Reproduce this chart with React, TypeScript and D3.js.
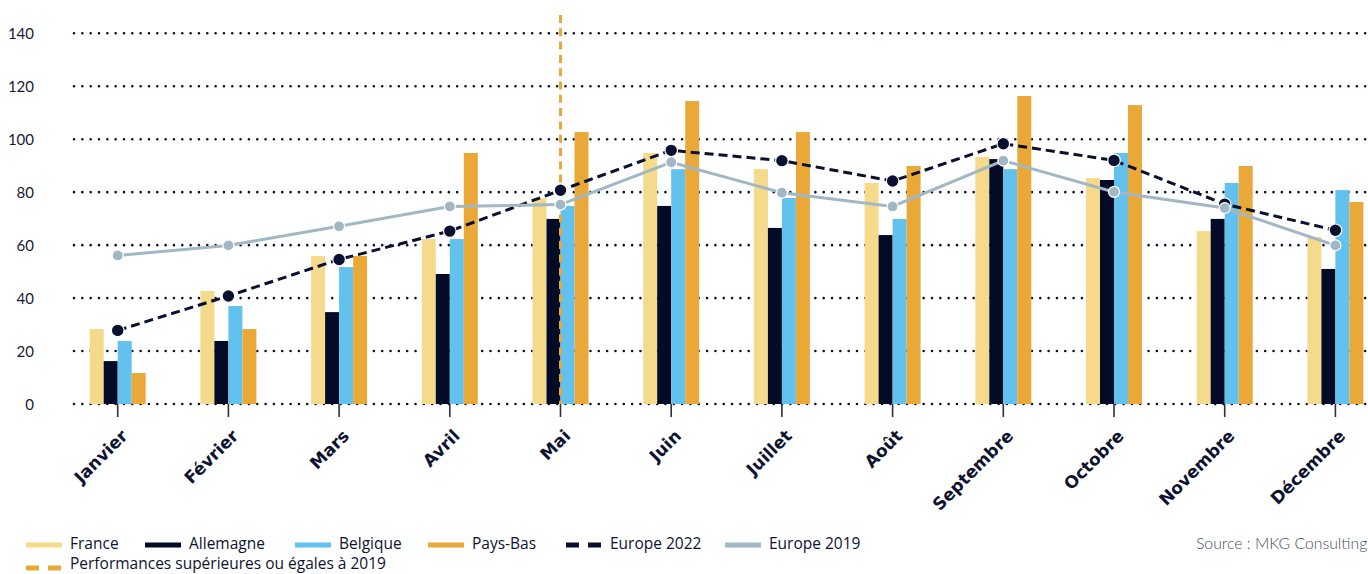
import React from 'react';
import { scaleBand, scaleLinear, line } from 'd3';

const months = ['Janvier', 'Février', 'Mars', 'Avril', 'Mai', 'Juin', 'Juillet', 'Août', 'Septembre', 'Octobre', 'Novembre', 'Décembre'];
const france = [28.3, 42.7, 55.9, 62.3, 77.7, 94.8, 88.7, 83.5, 93.3, 85.3, 65.3, 63.1];
const allemagne = [16.2, 23.8, 34.7, 49.1, 69.9, 74.8, 66.5, 63.8, 92.5, 84.6, 69.9, 51.0];
const belgique = [23.8, 37.0, 51.7, 62.3, 74.8, 88.7, 77.8, 69.9, 88.7, 94.8, 83.5, 80.8];
const paysBas = [11.7, 28.3, 55.9, 94.8, 102.7, 114.4, 102.7, 89.9, 116.3, 112.9, 89.9, 76.3];
const europe2022 = [27.8, 40.8, 54.6, 65.3, 80.7, 95.8, 91.9, 84.2, 98.3, 92.0, 75.5, 65.6];
const europe2019 = [56.1, 59.9, 67.1, 74.6, 75.3, 91.3, 79.8, 74.6, 91.9, 80.1, 74.0, 59.9];
const yTicks = [0, 20, 40, 60, 80, 100, 120, 140];
const markerMonth = 'Mai';

const barSeries = [
  { name: 'France', values: france, color: '#f5da8c' },
  { name: 'Allemagne', values: allemagne, color: '#030b26' },
  { name: 'Belgique', values: belgique, color: '#63c1ed' },
  { name: 'Pays-Bas', values: paysBas, color: '#eaa839' },
];

const NAVY = '#0a1030';
const GREY = '#a1b8c4';
const ORANGE = '#eaa839';
const FONT = 'Lato, "Open Sans", sans-serif';
const LEGEND_FONT = '"Open Sans", Lato, sans-serif';

export default function App() {
  const W = 1368;
  const H = 574;
  const x = scaleBand<string>().domain(months).range([62.35, 1390.75]).paddingInner(0.494).paddingOuter(0.247);
  const xi = scaleBand<string>().domain(barSeries.map((s) => s.name)).range([0, x.bandwidth()]);
  const y = scaleLinear().domain([0, 140]).range([404, 33.3]);
  const cx = (m: string) => (x(m) as number) + x.bandwidth() / 2;

  const lineGen = line<number>()
    .x((_, i) => cx(months[i]))
    .y((v) => y(v));

  const legend = [
    { name: 'France', color: '#f5da8c', x: 26, dash: '' },
    { name: 'Allemagne', color: '#030b26', x: 145, dash: '' },
    { name: 'Belgique', color: '#63c1ed', x: 295, dash: '' },
    { name: 'Pays-Bas', color: ORANGE, x: 428, dash: '' },
    { name: 'Europe 2022', color: NAVY, x: 566, dash: '13 9' },
    { name: 'Europe 2019', color: GREY, x: 725, dash: '' },
  ];

  return (
    <svg width={W} height={H} style={{ position: 'absolute', left: 0, top: 0, background: '#fff' }} fontFamily={FONT}>
      {yTicks.map((t) => (
        <g key={t}>
          <line x1={74} x2={W} y1={y(t)} y2={y(t)} stroke={NAVY} strokeWidth={2.6} strokeLinecap="round" strokeDasharray="0 8.33" />
          <text x={34} y={y(t) + 5.5} textAnchor="end" fontSize={15} fill="#161b33">{t}</text>
        </g>
      ))}

      {barSeries.map((s) => (
        <g key={s.name}>
          {s.values.map((v, i) => (
            <rect key={i} x={(x(months[i]) as number) + (xi(s.name) as number)} y={y(v)} width={xi.bandwidth()} height={y(0) - y(v)} fill={s.color} />
          ))}
        </g>
      ))}

      {months.map((m) => (
        <g key={m}>
          <line x1={cx(m)} x2={cx(m)} y1={404} y2={417} stroke="#2b3044" strokeWidth={1.6} />
          <text
            transform={`translate(${cx(m) + 11},437) rotate(-45)`}
            textAnchor="end"
            fontSize={17}
            fontWeight={700}
            fontFamily='"DejaVu Sans", sans-serif'
            fill="#0d1230"
          >
            {m}
          </text>
        </g>
      ))}

      <line x1={cx(markerMonth)} x2={cx(markerMonth)} y1={15} y2={404} stroke={ORANGE} strokeWidth={3} strokeDasharray="8 5.3" />

      <path d={lineGen(europe2022) || ''} fill="none" stroke={NAVY} strokeWidth={3} strokeDasharray="9 5" />
      {europe2022.map((v, i) => (
        <circle key={i} cx={cx(months[i])} cy={y(v)} r={6.3} fill={NAVY} stroke="#fff" strokeWidth={1.2} />
      ))}

      <path d={lineGen(europe2019) || ''} fill="none" stroke={GREY} strokeWidth={3} />
      {europe2019.map((v, i) => (
        <circle key={i} cx={cx(months[i])} cy={y(v)} r={5.5} fill={GREY} stroke="#fff" strokeWidth={1.2} />
      ))}

      <g fontFamily={LEGEND_FONT} fontSize={15.5} fill="#0d1230">
        {legend.map((l) => (
          <g key={l.name}>
            <line x1={l.x} x2={l.x + 36} y1={545} y2={545} stroke={l.color} strokeWidth={5} strokeDasharray={l.dash || undefined} />
            <text x={l.x + 44} y={549}>{l.name}</text>
          </g>
        ))}
        <line x1={26} x2={62} y1={568} y2={568} stroke={ORANGE} strokeWidth={5} strokeDasharray="13 9" />
        <text x={70} y={569}>Performances supérieures ou égales à 2019</text>
      </g>

      <text x={1196} y={549} fontSize={15.8} fontWeight={300} fill="#4a4e5c">Source : MKG Consulting</text>
    </svg>
  );
}
